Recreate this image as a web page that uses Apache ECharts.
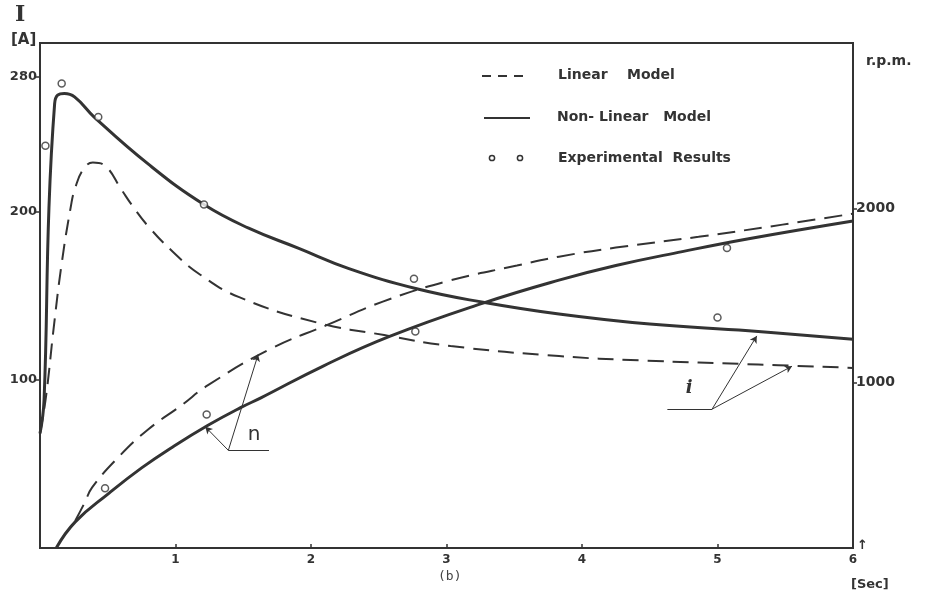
<!DOCTYPE html>
<html><head><meta charset="utf-8">
<script src="https://cdn.jsdelivr.net/npm/echarts@6/dist/echarts.min.js"></script>
<style>html,body{margin:0;padding:0;background:#fff}#c{width:932px;height:602px}</style>
</head><body><div id="c"></div>
<script>
// ---- data (time in s, current in A, speed in r.p.m.) ----
const timeTicks = [1, 2, 3, 4, 5, 6];
const currentTicks = [100, 200, 280];
const speedTicks = [1000, 2000];

const currentNonLinear = [[0,68],[0.03,88],[0.066,202],[0.108,264],[0.13,269],[0.18,270],[0.255,268],[0.40,256],[0.8,228],[1.21,204],[1.54,190],[1.91,178],[2.28,166],[2.78,154],[3.27,146],[3.83,139],[4.50,133],[5.23,129],[6.0,124]];
const currentLinear = [[0,68],[0.046,91],[0.10,130],[0.16,169],[0.23,204],[0.26,214],[0.32,225],[0.39,229],[0.48,227],[0.60,213],[0.68,203.5],[0.80,191],[0.98,176],[1.18,162.5],[1.47,149],[2.04,134],[2.54,126.5],[3.03,120],[3.83,114],[4.42,111.5],[5.30,109],[6.0,107]];
const speedNonLinear = [[0.12,50],[0.26,200],[0.51,365],[0.75,510],[0.99,636],[1.24,755],[1.48,856],[1.63,912],[2.09,1095],[2.58,1265],[3.27,1456],[3.83,1588],[4.25,1672],[4.74,1752],[5.23,1826],[6.0,1928]];
const speedLinear = [[0.26,206],[0.33,311],[0.385,398],[0.58,573],[0.80,732],[1.04,867],[1.24,985],[1.70,1193],[2.12,1331],[2.53,1465],[3.02,1585],[3.52,1672],[3.83,1723],[4.25,1775],[4.86,1837],[5.48,1907],[6.0,1970]];
const currentExperimental = [[0.04,239],[0.16,276],[0.43,256],[1.21,204],[2.76,160],[5.0,137]];
const speedExperimental = [[0.48,393],[1.23,817],[2.77,1293],[5.07,1773]];

// pointer annotations (in time / current units)
const speedPointers = [[[1.39,58],[1.22,72]], [[1.39,58],[1.61,115]]];
const speedPointerBar = [[1.39,58],[1.69,58]];
const currentPointers = [[[4.96,82.5],[5.29,126]], [[4.96,82.5],[5.55,108]]];
const currentPointerBar = [[4.63,82.5],[4.96,82.5]];
const speedLabelPos = [1.58,67];
const currentLabelPos = [4.79,95];

const ink = '#333';
const font = 'DejaVu Sans';

const chart = echarts.init(document.getElementById('c'));

function arrowLines(list){
  return list.map(p => [{coord:p[0], symbol:'none'}, {coord:p[1], symbol:'arrow'}]);
}
function barLine(p){ return [{coord:p[0], symbol:'none'}, {coord:p[1], symbol:'none'}]; }

const axisNum = {color: ink, fontFamily: font, fontWeight: 'bold', fontSize: 12};
const SM = 0.45;

chart.setOption({
  animation: false,
  backgroundColor: '#fff',
  grid: {left: 40, right: 79, top: 43, bottom: 54, show: true, borderColor: ink, borderWidth: 2, backgroundColor: 'transparent'},
  xAxis: {
    type: 'value', min: 0, max: 6,
    axisLine: {show: true, onZero: false, lineStyle: {color: ink, width: 2}},
    axisTick: {show: true, inside: true, length: 4, customValues: timeTicks, lineStyle: {color: ink, width: 1.5}},
    axisLabel: {customValues: timeTicks, margin: 6, ...axisNum},
    splitLine: {show: false}
  },
  yAxis: [{
    type: 'value', min: 0, max: 300, position: 'left',
    axisLine: {show: true, onZero: false, lineStyle: {color: ink, width: 2}},
    axisTick: {show: true, inside: false, length: 5, customValues: currentTicks, lineStyle: {color: ink, width: 1.5}},
    axisLabel: {customValues: currentTicks, margin: 3, ...axisNum, fontSize: 13},
    splitLine: {show: false}
  }, {
    type: 'value', min: 50, max: 2950, position: 'right',
    axisLine: {show: true, onZero: false, lineStyle: {color: ink, width: 2}},
    axisTick: {show: true, inside: false, length: 4, customValues: speedTicks, lineStyle: {color: ink, width: 1.5}},
    axisLabel: {customValues: speedTicks, margin: 3, ...axisNum, fontSize: 14, formatter: v => String(v)},
    splitLine: {show: false}
  }],
  series: [
    {name: 'Non-Linear Model', type: 'line', yAxisIndex: 0, data: currentNonLinear, showSymbol: false, symbol: 'none',
     smooth: SM, lineStyle: {color: ink, width: 3}, z: 3},
    {name: 'Linear Model', type: 'line', yAxisIndex: 0, data: currentLinear, showSymbol: false, symbol: 'none',
     smooth: SM, lineStyle: {color: ink, width: 2, type: [16, 9]}, z: 3},
    {name: 'Non-Linear Model', type: 'line', yAxisIndex: 1, data: speedNonLinear, showSymbol: false, symbol: 'none',
     smooth: SM, lineStyle: {color: ink, width: 3}, z: 3},
    {name: 'Linear Model', type: 'line', yAxisIndex: 1, data: speedLinear, showSymbol: false, symbol: 'none',
     smooth: SM, lineStyle: {color: ink, width: 2, type: [18, 9]}, z: 3},
    {name: 'Experimental Results', type: 'scatter', yAxisIndex: 0, data: currentExperimental, symbol: 'circle', symbolSize: 7,
     itemStyle: {color: '#fff', borderColor: ink, borderWidth: 1.5}, z: 4,
     markLine: {silent: true, symbolSize: [6, 7], animation: false,
       lineStyle: {color: ink, width: 1, type: 'solid'}, label: {show: false},
       data: [...arrowLines(speedPointers), barLine(speedPointerBar), ...arrowLines(currentPointers), barLine(currentPointerBar)]},
     markPoint: {silent: true, symbol: 'circle', symbolSize: 1, itemStyle: {color: 'transparent'},
       label: {show: true, position: 'inside', color: ink},
       data: [
         {coord: speedLabelPos, value: 'n', label: {formatter: 'n', fontFamily: font, fontSize: 20}},
         {coord: currentLabelPos, value: 'i', label: {formatter: 'i', fontFamily: 'DejaVu Serif', fontStyle: 'italic', fontWeight: 'bold', fontSize: 18}}
       ]}},
    {name: 'Experimental Results', type: 'scatter', yAxisIndex: 1, data: speedExperimental, symbol: 'circle', symbolSize: 7,
     itemStyle: {color: '#fff', borderColor: ink, borderWidth: 1.5}, z: 4}
  ],
  graphic: [
    {type: 'text', left: 15, top: 4, style: {text: 'I', fill: ink, font: 'bold 22px "DejaVu Serif"'}},
    {type: 'text', left: 11, top: 33, style: {text: '[A]', fill: ink, font: 'bold 15px "DejaVu Sans"'}},
    {type: 'text', left: 866, top: 54, style: {text: 'r.p.m.', fill: ink, font: 'bold 14px "DejaVu Sans"'}},
    {type: 'text', left: 857, top: 539, style: {text: '↑', fill: ink, font: 'bold 13px "DejaVu Sans"'}},
    {type: 'text', left: 851, top: 578, style: {text: '[Sec]', fill: ink, font: 'bold 13px "DejaVu Sans"'}},
    {type: 'text', left: 438, top: 570, style: {text: '(b)', fill: '#444', font: '13px "DejaVu Sans Mono"'}},
    // legend
    {type: 'line', shape: {x1: 482, y1: 76, x2: 530, y2: 76}, style: {stroke: ink, lineWidth: 2, lineDash: [9, 7]}},
    {type: 'line', shape: {x1: 484, y1: 118, x2: 530, y2: 118}, style: {stroke: ink, lineWidth: 2}},
    {type: 'circle', shape: {cx: 492, cy: 158, r: 2.6}, style: {fill: '#fff', stroke: ink, lineWidth: 1.5}},
    {type: 'circle', shape: {cx: 520, cy: 158, r: 2.6}, style: {fill: '#fff', stroke: ink, lineWidth: 1.5}},
    {type: 'text', left: 558, top: 68, style: {text: 'Linear    Model', fill: ink, font: 'bold 14px "DejaVu Sans"'}},
    {type: 'text', left: 557, top: 110, style: {text: 'Non- Linear   Model', fill: ink, font: 'bold 14px "DejaVu Sans"'}},
    {type: 'text', left: 558, top: 151, style: {text: 'Experimental  Results', fill: ink, font: 'bold 14px "DejaVu Sans"'}}
  ]
});
</script></body></html>
